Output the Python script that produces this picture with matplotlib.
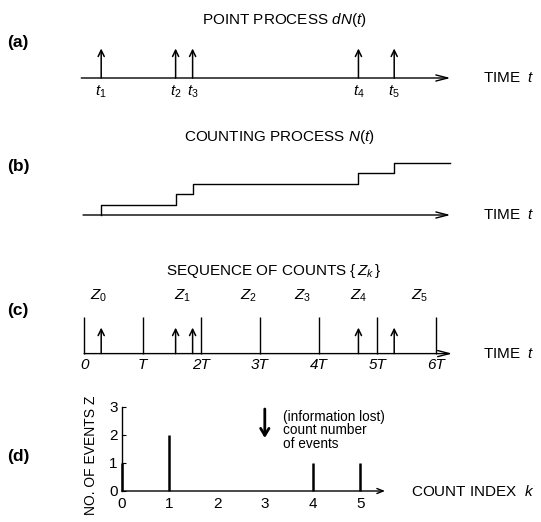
"""Point process -> counting process -> sequence of counts, four stacked panels."""

import matplotlib

matplotlib.use("Agg")
import matplotlib.pyplot as plt
import numpy as np

plt.rcParams["font.family"] = ["Liberation Sans", "DejaVu Sans"]
plt.rcParams["mathtext.fontset"] = "custom"
plt.rcParams["mathtext.rm"] = "Liberation Sans"
plt.rcParams["mathtext.it"] = "Liberation Sans:italic"
plt.rcParams["mathtext.bf"] = "Liberation Sans:bold"

# event times in units of the counting interval T
event_times = [0.29, 1.56, 1.85, 4.68, 5.29]
event_labels = [r"$t_{\mathit{1}}$", r"$t_{\mathit{2}}$", r"$t_{\mathit{3}}$",
                r"$t_{\mathit{4}}$", r"$t_{\mathit{5}}$"]
n_intervals = 6
interval_labels = ["0", "T", "2T", "3T", "4T", "5T", "6T"]
count_labels = [r"$Z_{\mathit{%d}}$" % k for k in range(n_intervals)]
count_label_pos = [0.25, 1.68, 2.81, 3.73, 4.69, 5.72]

# counts per interval Z_k
count_index = np.arange(n_intervals)
counts = np.histogram(event_times, bins=np.arange(n_intervals + 1))[0]

W, H = 541, 522
X0, TPX = 84.2, 58.6  # pixel of t=0 and pixels per T
FS = 11

fig = plt.figure(figsize=(W / 100, H / 100), dpi=100)


def px_t(x):
    return (x - X0) / TPX


def band(top, bot, base, unit):
    """Full-width axes between pixel rows top..bot; y=0 at base, y=1 one unit above."""
    ax = fig.add_axes([0, 1 - bot / H, 1, (bot - top) / H])
    ax.set_xlim(px_t(0), px_t(W))
    ax.set_ylim((base - bot) / unit, (base - top) / unit)
    ax.axis("off")
    return ax


def time_axis(ax, x_start, x_end):
    ax.annotate("", xy=(x_end, 0), xytext=(x_start, 0),
                arrowprops=dict(arrowstyle="->,head_length=0.85,head_width=0.22",
                                lw=1.0, color="black", shrinkA=0, shrinkB=0))
    ax.text(px_t(483), 0, r"TIME  $t$", fontsize=FS, va="center", ha="left")


def spikes(ax, times):
    for t in times:
        ax.annotate("", xy=(t, 1), xytext=(t, 0),
                    arrowprops=dict(arrowstyle="->,head_length=0.45,head_width=0.22",
                                    lw=1.1, color="black", shrinkA=0, shrinkB=0))


def panel_label(s, y):
    fig.text(7 / W, 1 - y / H, s, fontsize=12.5, fontweight="bold", va="center", ha="left")


# (a) point process
base, unit = 78, 29.5
ax = band(0, 110, base, unit)
time_axis(ax, -0.05, 6.25)
spikes(ax, event_times)
for t, lab in zip(event_times, event_labels):
    ax.text(t, -(92 - base) / unit, lab, fontsize=FS, ha="center", va="center")
ax.text(px_t(284), (base - 20) / unit, r"POINT PROCESS $\mathit{dN(t)}$", fontsize=FS,
        ha="center", va="center")
panel_label("(a)", 42)

# (b) counting process
base, unit = 215, 10.4
ax = band(115, 240, base, unit)
time_axis(ax, -0.02, 6.25)
step_x = np.r_[event_times[0], event_times, 6.25]
step_y = np.r_[0, np.arange(1, len(event_times) + 1), len(event_times)]
ax.step(step_x, step_y, where="post", color="black", lw=1.0)
ax.text(px_t(279), (base - 137) / unit, r"COUNTING PROCESS $\mathit{N(t)}$", fontsize=FS,
        ha="center", va="center")
panel_label("(b)", 166)

# (c) sequence of counts
base, unit = 353.6, 26
ax = band(250, 385, base, unit)
time_axis(ax, 0, 6.28)
ax.vlines(np.arange(n_intervals + 1), 0, (base - 317) / unit, color="black", lw=1.0)
spikes(ax, event_times)
for k, lab in enumerate(interval_labels):
    ax.text(k, -(365 - base) / unit, lab, fontsize=FS, fontstyle="italic",
            ha="center", va="center")
for x, lab in zip(count_label_pos, count_labels):
    ax.text(x, (base - 295.5) / unit, lab, fontsize=FS, ha="center", va="center")
ax.text(px_t(274), (base - 270.5) / unit, r"SEQUENCE OF COUNTS $\{\,Z_{k}\,\}$",
        fontsize=FS, ha="center", va="center")
panel_label("(c)", 311)

# (d) counts against count index
KPX, ZPX = 47.7, 28.0
left, base = 121.7, 491
xmax = 5.52
ax = fig.add_axes([left / W, 1 - base / H, xmax * KPX / W, 3 * ZPX / H])
ax.set_xlim(0, xmax)
ax.set_ylim(0, 3)
for s in ("top", "right", "bottom"):
    ax.spines[s].set_visible(False)
ax.spines["left"].set_linewidth(1.0)
ax.annotate("", xy=(xmax, 0), xytext=(0, 0), xycoords="data",
            arrowprops=dict(arrowstyle="->,head_length=0.45,head_width=0.18",
                            lw=1.0, color="black", shrinkA=0, shrinkB=0),
            annotation_clip=False)
ax.vlines(count_index, 0, counts, color="black", lw=1.8, clip_on=False, zorder=3)
ax.set_xticks(count_index)
ax.set_yticks(np.arange(4))
ax.tick_params(axis="x", length=0, pad=4, labelsize=FS)
ax.tick_params(axis="y", length=3, direction="in", pad=3, labelsize=FS)
ax.annotate("", xy=(3, (base - 438) / ZPX), xytext=(3, (base - 409) / ZPX),
            arrowprops=dict(arrowstyle="->,head_length=0.5,head_width=0.3",
                            lw=2.0, color="black", shrinkA=0, shrinkB=0),
            annotation_clip=False)
ax.text((283 - left) / KPX, (base - 410) / ZPX,
        "(information lost)\ncount number\nof events", fontsize=9.8,
        linespacing=0.95, ha="left", va="top")
fig.text(91 / W, 1 - 455 / H, "NO. OF EVENTS Z", rotation=90, fontsize=10,
         ha="center", va="center")
fig.text(411 / W, 1 - base / H, r"COUNT INDEX  $k$", fontsize=FS, ha="left", va="center")
panel_label("(d)", 456)

fig.savefig("out.png", dpi=100)
plt.close(fig)
